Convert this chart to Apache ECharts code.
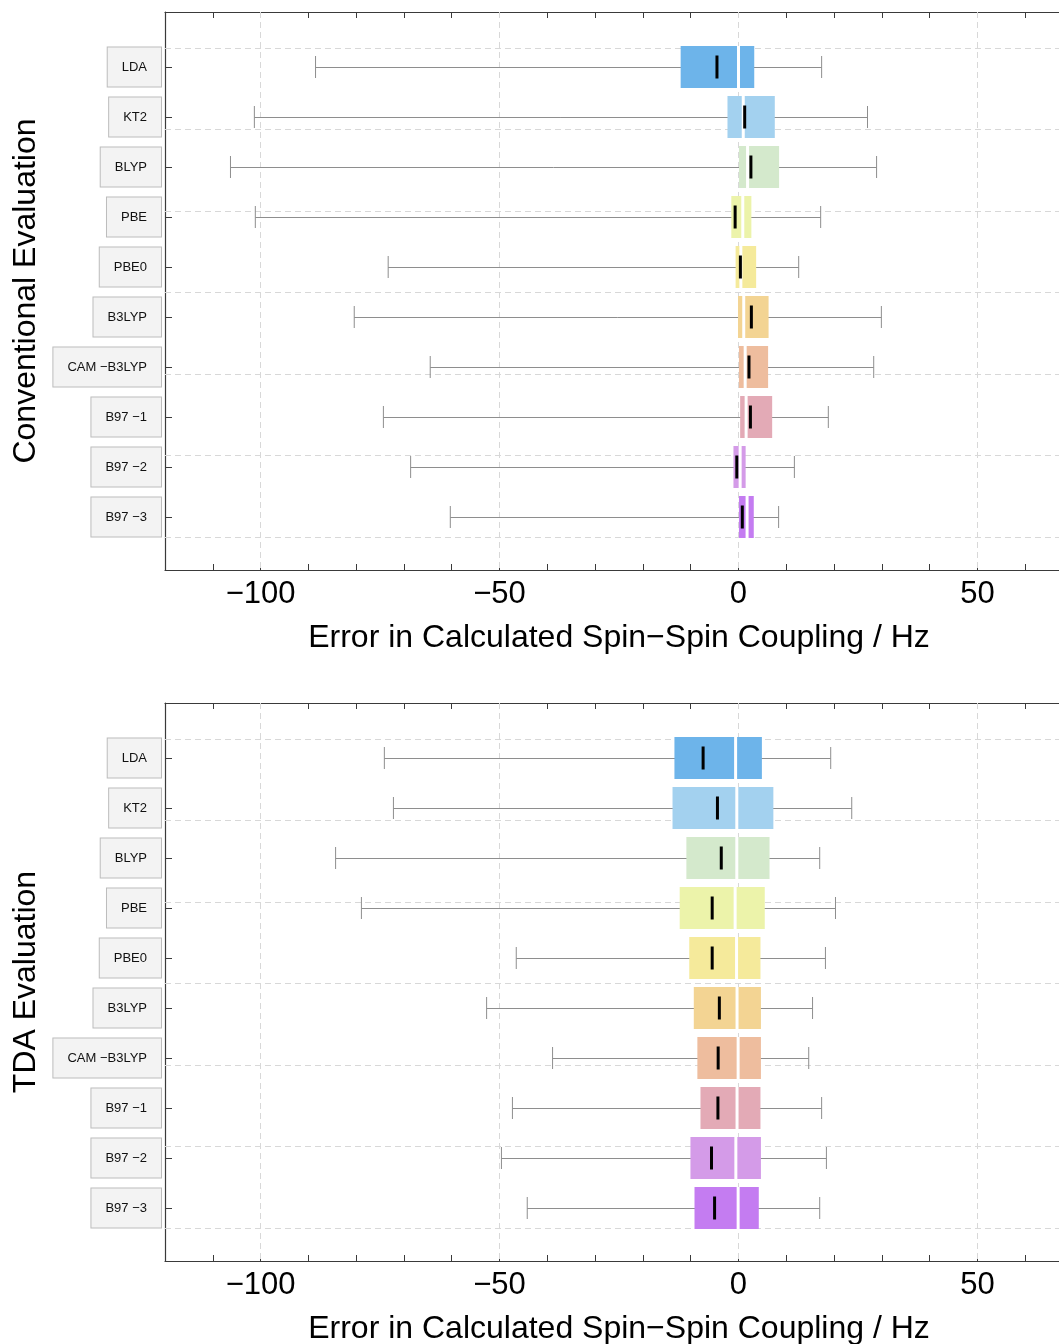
<!DOCTYPE html>
<html><head><meta charset="utf-8">
<script src="https://cdn.jsdelivr.net/npm/echarts@6/dist/echarts.min.js"></script>
<style>html,body{margin:0;padding:0;background:#fff}#c{width:1059px;height:1344px}</style>
</head><body><div id="c"></div><script>
// ---- data ----
const methods = ['LDA','KT2','BLYP','PBE','PBE0','B3LYP','CAM −B3LYP','B97 −1','B97 −2','B97 −3'];
const positions = [1,2,3,4,5,6,7,8,9,10];
const colors = ['#6db4ea','#a3d1ef','#d4e9cc','#ecf3aa','#f5ea9b','#f3d493','#eebd9e','#e3aab6','#d49be8','#c47cf1'];

// Conventional evaluation
const convMin    = [-88.5,-101.3,-106.3,-101.1,-73.3,-80.4,-64.5,-74.3,-68.6,-60.3];
const convQ1     = [-12.1, -2.3,   0.1,  -1.5, -0.6, -0.1,  0.1,  0.35, -1.05, 0.1];
const convMedian = [  0.0,  1.0,   1.9,   0.9,  0.5,  1.1,  1.4,  1.6,   0.35, 1.8];
const convQ3     = [  3.3,  7.6,   8.5,   2.7,  3.7,  6.3,  6.2,  7.05,  1.5,  3.2];
const convMax    = [ 17.4, 27.0,  28.9,  17.2, 12.6, 29.9, 28.3, 18.8,  11.7,  8.4];
const convMean   = [ -4.5,  1.3,   2.6,  -0.7,  0.4,  2.7,  2.2,  2.5,  -0.35, 0.8];

// TDA evaluation
const tdaMin    = [-74.1,-72.2,-84.3,-78.9,-46.5,-52.7,-38.9,-47.3,-49.6,-44.2];
const tdaQ1     = [-13.4,-13.8,-10.9,-12.3,-10.3, -9.35,-8.6,-7.95,-10.05,-9.2];
const tdaMedian = [ -0.6, -0.35,-0.35,-0.7, -0.4, -0.3, -0.07,-0.3, -0.55,-0.07];
const tdaQ3     = [  4.9,  7.3,  6.5,  5.5,  4.6,  4.7,  4.7,  4.6,  4.7,  4.25];
const tdaMax    = [ 19.3, 23.7, 17.0, 20.3, 18.2, 15.5, 14.7, 17.4, 18.4, 17.0];
const tdaMean   = [ -7.4, -4.4, -3.6, -5.5, -5.5, -4.0, -4.25,-4.3, -5.65,-5.0];

const xTicksMajor = [-100,-50,0,50];
const yGridPositions = [0.62,2.25,3.88,5.51,7.14,8.77,10.4];

const xTitle = 'Error in Calculated Spin\u2212Spin Coupling / Hz';
const panelTitles = ['Conventional Evaluation','TDA Evaluation'];

// ---- build ----
function rows(mn,q1,md,q3,mx,mean){
  return positions.map((p,i)=>[p,mn[i],q1[i],md[i],q3[i],mx[i],mean[i],i]);
}
const FONT = '"Liberation Sans", Arial, sans-serif';
const AX = '#3a3a3a';

function renderBox(params, api){
  const pos = api.value(0);
  const y = api.coord([0,pos])[1];
  const X = v => api.coord([v,pos])[0];
  const xmn = X(api.value(1)), xq1 = X(api.value(2)), xmd = X(api.value(3)),
        xq3 = X(api.value(4)), xmx = X(api.value(5)), xme = X(api.value(6));
  const ci = api.value(7);
  const h = api.size([0,0.84])[1];
  const capH = api.size([0,0.44])[1];
  const meanH = api.size([0,0.46])[1];
  const ly = Math.round(y)+0.5;
  const ws = {stroke:'#8e8e8e', lineWidth:1};
  return {type:'group', children:[
    {type:'line', shape:{x1:xmn,y1:ly,x2:xmx,y2:ly}, style:ws},
    {type:'line', shape:{x1:xmn,y1:y-capH/2,x2:xmn,y2:y+capH/2}, style:ws},
    {type:'line', shape:{x1:xmx,y1:y-capH/2,x2:xmx,y2:y+capH/2}, style:ws},
    {type:'rect', shape:{x:xq1,y:y-h/2,width:xq3-xq1,height:h}, style:{fill:colors[ci]}},
    {type:'rect', shape:{x:xmd-1.5,y:y-h/2,width:3,height:h}, style:{fill:'#ffffff'}},
    {type:'rect', shape:{x:xme-1.5,y:y-meanH/2,width:3,height:meanH}, style:{fill:'#000000'}}
  ]};
}

function xAx(gi, pos){
  const bottom = pos==='bottom';
  return {type:'value', gridIndex:gi, position:pos, min:-120, max:70, interval:10,
    axisLine:{show:true, onZero:false, lineStyle:{color:AX, width:1.2}},
    axisTick:{show:true, inside:true, length:6, lineStyle:{color:AX}},
    axisLabel:{show:bottom, margin:9, fontSize:31, color:'#000', fontFamily:FONT,
      formatter: v => (Math.abs(v%50)<1e-9 ? (v<0 ? '\u2212'+(-v) : String(v)) : '')},
    splitLine:{show:false},
    name: bottom ? xTitle : '', nameLocation:'middle', nameGap:52,
    nameTextStyle:{fontSize:32, color:'#000', fontFamily:FONT}
  };
}
function yAx(gi){
  return {type:'value', gridIndex:gi, min:-0.1, max:11.06, inverse:true,
    axisLine:{show:true, onZero:false, lineStyle:{color:AX, width:1.2}},
    axisTick:{show:true, inside:true, length:7, lineStyle:{color:AX}, customValues:positions},
    axisLabel:{customValues:positions, margin:4, fontSize:13, color:'#111', fontFamily:FONT,
      backgroundColor:'#f3f3f3', borderColor:'#bcbcbc', borderWidth:1, padding:[13,14],
      formatter: v => methods[Math.round(v)-1] || ''},
    splitLine:{show:false}
  };
}
function gridSeries(xi, yi){
  return {type:'scatter', xAxisIndex:xi, yAxisIndex:yi, data:[], z:1, silent:true,
    markLine:{silent:true, symbol:['none','none'], animation:false, label:{show:false},
      lineStyle:{type:[6,4], color:'#d8d8d8', width:1},
      emphasis:{disabled:true},
      data:[...xTicksMajor.map(v=>({xAxis:v})), ...yGridPositions.map(v=>({yAxis:v}))]}};
}
function boxSeries(xi, yi, data){
  return {type:'custom', xAxisIndex:xi, yAxisIndex:yi, z:5, renderItem:renderBox,
    encode:{x:[1,2,3,4,5,6], y:0}, data:data, animation:false};
}

const chart = echarts.init(document.getElementById('c'), null, {renderer:'canvas'});
chart.setOption({
  animation:false,
  backgroundColor:'#ffffff',
  grid:[{left:165, top:12, width:908, height:558, outerBoundsMode:'none', containLabel:false},
        {left:165, top:703, width:908, height:558, outerBoundsMode:'none', containLabel:false}],
  xAxis:[xAx(0,'bottom'), xAx(0,'top'), xAx(1,'bottom'), xAx(1,'top')],
  yAxis:[yAx(0), yAx(1)],
  series:[
    gridSeries(0,0), gridSeries(2,1),
    boxSeries(0,0, rows(convMin,convQ1,convMedian,convQ3,convMax,convMean)),
    boxSeries(2,1, rows(tdaMin,tdaQ1,tdaMedian,tdaQ3,tdaMax,tdaMean))
  ],
  graphic:[
    {type:'text', x:26, y:291, rotation:Math.PI/2,
      style:{text:panelTitles[0], font:'32px '+FONT, align:'center', verticalAlign:'middle', fill:'#000'}},
    {type:'text', x:26, y:982, rotation:Math.PI/2,
      style:{text:panelTitles[1], font:'32px '+FONT, align:'center', verticalAlign:'middle', fill:'#000'}}
  ]
});
</script></body></html>
